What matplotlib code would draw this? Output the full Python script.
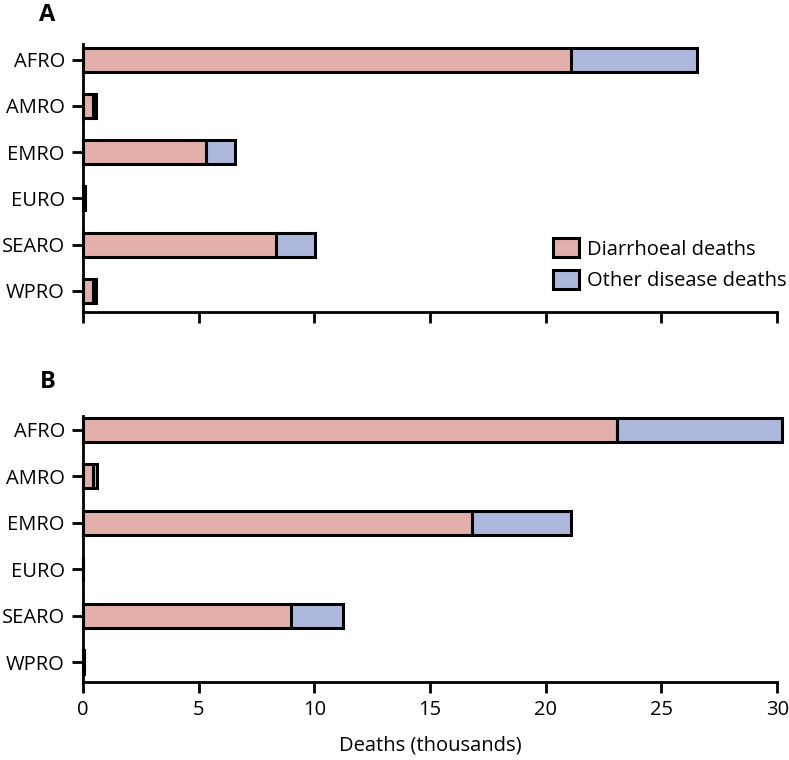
import matplotlib.pyplot as plt
import numpy as np

plt.rcParams["font.family"] = ["Open Sans", "DejaVu Sans"]

regions = ["AFRO", "AMRO", "EMRO", "EURO", "SEARO", "WPRO"]

# deaths in thousands
diarr_a = [21.1, 0.45, 5.3, 0.1, 8.35, 0.45]
other_a = [5.45, 0.1, 1.27, 0.0, 1.68, 0.1]
diarr_b = [23.1, 0.45, 16.8, 0.0, 9.0, 0.05]
other_b = [7.1, 0.15, 4.3, 0.0, 2.25, 0.0]

PINK = "#e3afab"
BLUE = "#aeb8dc"

fig = plt.figure(figsize=(7.89, 7.6), dpi=100)
ax_a = fig.add_axes([0.105, 0.5895, 0.88, 0.352])
ax_b = fig.add_axes([0.105, 0.1026, 0.88, 0.35])

y = np.arange(len(regions))
for ax, d, o in [(ax_a, diarr_a, other_a), (ax_b, diarr_b, other_b)]:
    ax.barh(y, d, height=0.52, color=PINK, edgecolor="black", linewidth=2.2,
            label="Diarrhoeal deaths", clip_on=False)
    ax.barh(y, o, left=d, height=0.52, color=BLUE, edgecolor="black",
            linewidth=2.2, label="Other disease deaths", clip_on=False)
    ax.set_xlim(0, 30)
    ax.set_xticks([0, 5, 10, 15, 20, 25, 30])
    ax.set_yticks(y)
    ax.set_yticklabels(regions)
    ax.spines["top"].set_visible(False)
    ax.spines["right"].set_visible(False)
    for s in ("left", "bottom"):
        ax.spines[s].set_linewidth(2)
    ax.tick_params(axis="both", width=2, length=8, labelsize=14.5, pad=5)

ax_a.set_ylim(5.46, -0.33)
ax_b.set_ylim(5.43, -0.3)
ax_a.tick_params(axis="x", labelbottom=False)
ax_b.set_xlabel("Deaths (thousands)", fontsize=14.5, labelpad=11)

ax_a.legend(loc="lower right", bbox_to_anchor=(1.04, 0.01), frameon=False,
            fontsize=14.5, handlelength=1.3, handleheight=1.1, handletextpad=0.4,
            labelspacing=0.5)

fig.text(0.06, 0.98, "A", fontsize=17, fontweight="bold", ha="center", va="center")
fig.text(0.06, 0.497, "B", fontsize=17, fontweight="bold", ha="center", va="center")

fig.savefig("out.png", dpi=100)
